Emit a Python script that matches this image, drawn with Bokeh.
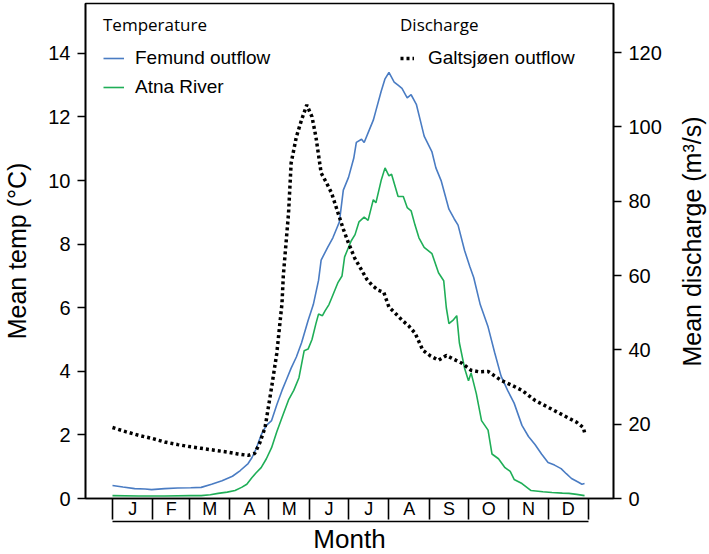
import math
from bokeh.plotting import figure
from bokeh.models import Range1d, LinearAxis, FixedTicker, Legend, LegendItem
from bokeh.embed import file_html
from bokeh.resources import INLINE

# ---------------- data ----------------
months = ["J", "F", "M", "A", "M", "J", "J", "A", "S", "O", "N", "D"]
month_days = [31, 28, 31, 30, 31, 30, 31, 31, 30, 31, 30, 31]
temp_ticks = [0, 2, 4, 6, 8, 10, 12, 14]
discharge_ticks = [0, 20, 40, 60, 80, 100, 120]

femund_day = [0, 8, 17, 25, 30, 40, 50, 60, 68, 76, 84, 92, 98, 104, 107, 110, 114, 118,
              122, 126, 130, 134, 137, 141, 145, 150, 154, 158, 160, 165, 169, 172, 174,
              177, 181, 185, 187, 191, 193, 196, 200, 202, 206, 209, 212, 216, 219, 222,
              226, 229, 233, 236, 239, 245, 248, 252, 258, 262, 265, 270, 274, 277, 282,
              288, 293, 298, 303, 308, 314, 319, 324, 329, 334, 339, 344, 348, 352, 357,
              360, 362]
femund_temp = [0.41, 0.36, 0.31, 0.30, 0.28, 0.31, 0.33, 0.34, 0.35, 0.45, 0.56, 0.70,
               0.88, 1.10, 1.29, 1.55, 2.0, 2.3, 2.45, 2.95, 3.4, 3.8, 4.1, 4.45, 4.9, 5.6,
               6.1, 6.86, 7.5, 7.9, 8.2, 8.5, 8.7, 9.7, 10.1, 10.7, 11.2, 11.3, 11.2, 11.5,
               11.9, 12.2, 12.8, 13.2, 13.4, 13.1, 13.0, 12.9, 12.6, 12.7, 12.4, 11.9, 11.4,
               10.9, 10.4, 10.0, 9.1, 8.8, 8.6, 7.8, 7.3, 6.95, 6.1, 5.4, 4.6, 3.85, 3.4,
               3.0, 2.3, 1.95, 1.7, 1.4, 1.13, 1.05, 0.94, 0.78, 0.63, 0.52, 0.45, 0.47]

atna_day = [0, 20, 40, 60, 68, 75, 81, 88, 94, 99, 103, 107, 110, 114, 118, 122, 126, 130,
            135, 139, 143, 147, 150, 153, 156, 158, 161, 163, 166, 168, 173, 176, 178, 183,
            186, 189, 193, 196, 200, 202, 206, 209, 212, 214, 219, 223, 226, 229, 232, 235,
            239, 245, 250, 254, 256, 258, 261, 264, 266, 270, 273, 275, 279, 283, 288, 291,
            296, 301, 305, 308, 314, 321, 330, 337, 345, 350, 356, 362]
atna_temp = [0.09, 0.08, 0.08, 0.09, 0.09, 0.12, 0.16, 0.20, 0.25, 0.35, 0.45, 0.66, 0.80,
             0.97, 1.25, 1.6, 2.1, 2.55, 3.1, 3.4, 3.8, 4.65, 4.7, 5.0, 5.5, 5.8, 5.75, 5.9,
             6.1, 6.3, 6.8, 7.0, 7.6, 8.1, 8.3, 8.7, 8.85, 8.75, 9.4, 9.3, 10.0, 10.4, 10.15,
             10.2, 9.5, 9.5, 9.15, 9.05, 8.6, 8.2, 7.9, 7.7, 7.1, 6.85, 6.0, 5.5, 5.6, 5.75,
             4.9, 4.1, 3.7, 3.95, 3.3, 2.45, 2.15, 1.4, 1.25, 0.97, 0.85, 0.6, 0.47, 0.25,
             0.21, 0.19, 0.17, 0.16, 0.13, 0.09]

galt_day = [0, 10, 20, 30, 40, 50, 60, 68, 78, 88, 96, 104, 109, 113, 117, 122, 126, 130,
            131, 135, 137, 141, 145, 149, 153, 156, 160, 164, 168, 173, 177, 181, 186, 191,
            195, 199, 204, 208, 212, 217, 222, 227, 232, 238, 244, 250, 256, 262, 268, 275,
            281, 288, 293, 298, 306, 314, 324, 337, 350, 356, 361, 362]
galt_q = [19.1, 18.0, 17.0, 16.2, 15.2, 14.5, 13.9, 13.5, 13.0, 12.5, 12.0, 11.6, 12.1, 15.0,
          19.1, 29.9, 39.1, 52.6, 60.0, 76.8, 90.3, 97.3, 101.9, 105.9, 102.7, 97.3, 87.6,
          85.0, 82.2, 76.8, 72.5, 68.7, 64.5, 61.5, 59.0, 57.4, 56.0, 55.5, 51.5, 49.8, 48.0,
          46.5, 44.5, 39.9, 38.3, 37.2, 38.5, 37.4, 36.4, 34.5, 34.1, 34.2, 33.0, 31.8, 30.5,
          29.1, 26.4, 24.0, 21.6, 20.5, 19.1, 17.8]

# ---------------- month boxes (derived) ----------------
month_edges = [0]
for d in month_days:
    month_edges.append(month_edges[-1] + d)
month_mid = [(a + b) / 2 for a, b in zip(month_edges[:-1], month_edges[1:])]

BLUE = "#4a7cc3"
GREEN = "#1fae57"
FONT = "Liberation Sans"

p = figure(frame_width=528, frame_height=495, min_border_left=84, min_border_right=97,
           min_border_top=3, min_border_bottom=0, x_range=Range1d(-20.7, 384.2),
           y_range=Range1d(0, 15.57), x_axis_location=None,
           output_backend="svg", toolbar_location=None)
p.grid.visible = False
p.outline_line_color = "black"
p.outline_line_width = 1.6
p.background_fill_color = "white"
p.border_fill_color = "white"

p.extra_y_ranges = {"q": Range1d(0, 133.2)}

ya = p.yaxis[0]
ya.ticker = FixedTicker(ticks=temp_ticks)
ya.axis_label = "Mean temp (°C)"

yr = LinearAxis(y_range_name="q", ticker=FixedTicker(ticks=discharge_ticks))
p.add_layout(yr, "right")

right_title = "Mean discharge (m³/s)"
if hasattr(yr, "axis_label_align") and hasattr(yr, "axis_label_orientation"):
    # read bottom-to-top (like the reference); start at the bottom of the axis and
    # lift the words to the middle with non-breaking spaces
    yr.axis_label = "\u00a0" * 19 + right_title
    yr.axis_label_orientation = math.pi / 2
    yr.axis_label_align = "start"
else:
    yr.axis_label = right_title

for ax, stand in ((ya, 14), (yr, 27)):
    ax.axis_line_color = "black"
    ax.axis_line_width = 1.6
    ax.major_tick_line_color = "black"
    ax.major_tick_line_width = 1.6
    ax.major_tick_out = 8
    ax.major_tick_in = 0
    ax.minor_tick_line_color = None
    ax.major_label_text_font = FONT
    ax.major_label_text_font_size = "20px"
    ax.major_label_text_color = "black"
    ax.major_label_standoff = 7
    ax.axis_label_text_font = FONT
    ax.axis_label_text_font_size = "25px"
    ax.axis_label_text_font_style = "normal"
    ax.axis_label_text_color = "black"
    ax.axis_label_standoff = stand

# month boxes: outward minor ticks at month edges, letters at month centres
xa = LinearAxis(ticker=FixedTicker(ticks=month_mid, minor_ticks=month_edges),
                major_label_overrides={m: t for m, t in zip(month_mid, months)})
xa.axis_line_color = "black"
xa.axis_line_width = 1.6
xa.major_tick_line_color = None
xa.major_tick_out = 0
xa.major_tick_in = 0
xa.minor_tick_line_color = "black"
xa.minor_tick_line_width = 1.6
xa.minor_tick_out = 0
xa.minor_tick_in = -21
xa.major_label_text_font = FONT
xa.major_label_text_font_size = "18px"
xa.major_label_text_color = "black"
xa.major_label_standoff = 0
p.add_layout(xa, "below")

xb = LinearAxis(ticker=FixedTicker(ticks=[]), bounds=(month_edges[0], month_edges[-1]),
                axis_label="Month")
xb.axis_line_color = "black"
xb.axis_line_width = 1.6
xb.major_tick_line_color = None
xb.minor_tick_line_color = None
xb.major_label_text_font_size = "0px"
xb.axis_label_text_font = FONT
xb.axis_label_text_font_size = "26px"
xb.axis_label_text_font_style = "normal"
xb.axis_label_text_color = "black"
xb.axis_label_standoff = 2
p.add_layout(xb, "below")

r_fem = p.line(femund_day, femund_temp, line_color=BLUE, line_width=1.6)
r_atna = p.line(atna_day, atna_temp, line_color=GREEN, line_width=1.6)
r_galt = p.line(galt_day, galt_q, y_range_name="q", line_color="black", line_width=3.5,
                line_dash="3 3")

leg1 = Legend(items=[LegendItem(label="Femund outflow", renderers=[r_fem]),
                     LegendItem(label="Atna River", renderers=[r_atna])],
              title="Temperature", location=(18, 400))
leg2 = Legend(items=[LegendItem(label="Galtsjøen outflow", renderers=[r_galt])],
              title="Discharge", location=(315, 429))
for lg, gw, ls in ((leg1, 21, 11), (leg2, 14, 14)):
    lg.title_text_font = "Open Sans"
    lg.title_text_font_size = "17px"
    lg.title_text_font_style = "normal"
    lg.title_text_color = "black"
    lg.title_standoff = 11
    lg.label_text_font = FONT
    lg.label_text_font_size = "19px"
    lg.label_text_color = "black"
    lg.glyph_width = gw
    lg.glyph_height = 20
    lg.label_height = 20
    lg.label_standoff = ls
    lg.spacing = 7
    lg.padding = 0
    lg.margin = 0
    lg.border_line_color = None
    lg.background_fill_alpha = 0
    p.add_layout(lg, "center")

open("out.html", "w").write(file_html(p, INLINE))
